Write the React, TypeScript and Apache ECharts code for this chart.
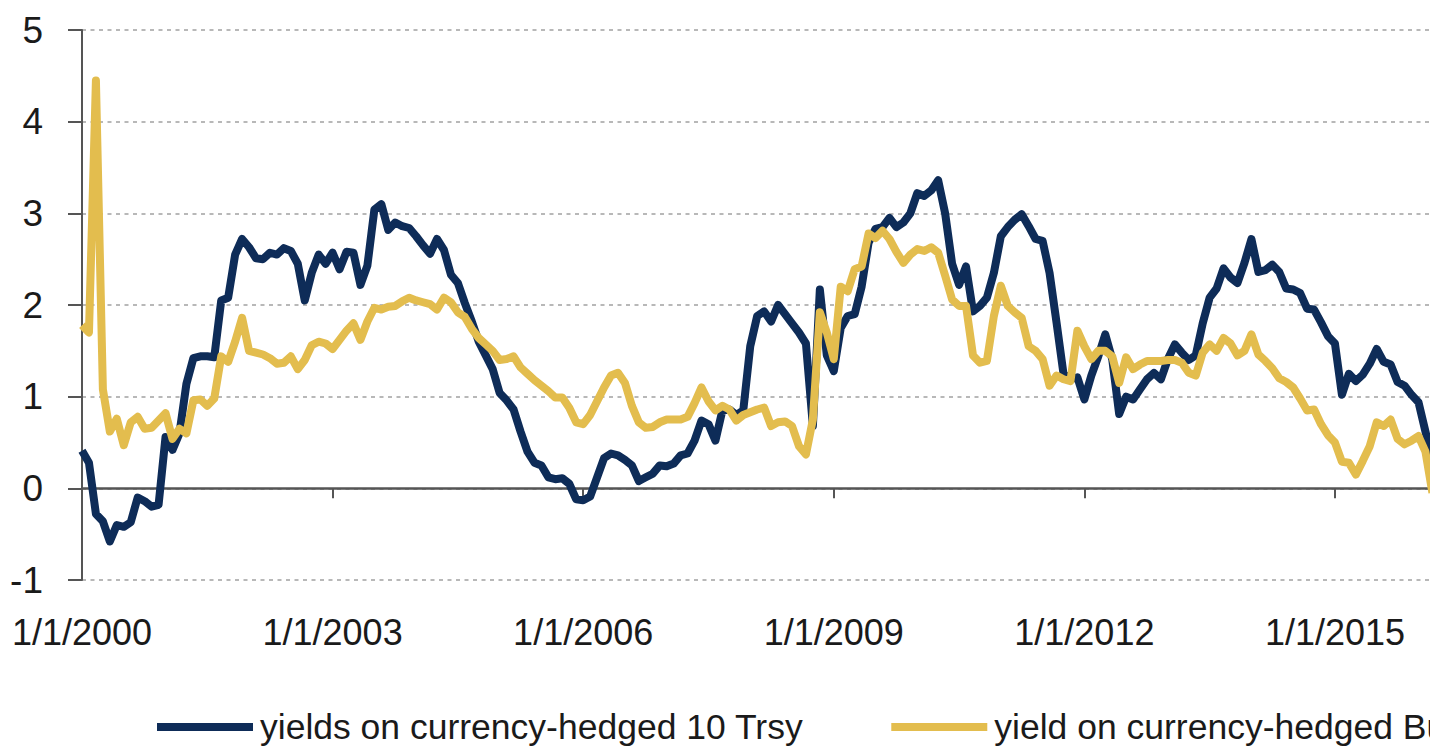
import React, { useEffect, useRef } from "react";
import * as echarts from "echarts";

const startYear = 2000;
const seriesNames = ["yields on currency-hedged 10 Trsy", "yield on currency-hedged Bund"];
const yTicks = { min: -1, max: 5, interval: 1 };

// monthly values, Jan 2000 onward
const treasury: number[] = [
  0.41, 0.28, -0.28, -0.36, -0.58, -0.40, -0.42, -0.37, -0.10, -0.14,
  -0.20, -0.18, 0.56, 0.42, 0.60, 1.14, 1.42, 1.44, 1.44, 1.43,
  2.05, 2.08, 2.55, 2.72, 2.63, 2.51, 2.50, 2.57, 2.55, 2.62,
  2.59, 2.45, 2.05, 2.35, 2.55, 2.45, 2.57, 2.39, 2.58, 2.57,
  2.22, 2.43, 3.04, 3.10, 2.82, 2.90, 2.86, 2.84, 2.75, 2.65,
  2.56, 2.72, 2.60, 2.33, 2.24, 2.02, 1.82, 1.60, 1.45, 1.30,
  1.04, 0.96, 0.86, 0.62, 0.40, 0.28, 0.25, 0.12, 0.10, 0.11,
  0.05, -0.12, -0.13, -0.09, 0.12, 0.33, 0.38, 0.36, 0.31, 0.25,
  0.08, 0.12, 0.16, 0.25, 0.24, 0.27, 0.36, 0.38, 0.52, 0.74,
  0.70, 0.52, 0.85, 0.86, 0.80, 0.85, 1.55, 1.88, 1.93, 1.82,
  2.00, 1.90, 1.80, 1.70, 1.58, 0.68, 2.17, 1.45, 1.28, 1.75,
  1.88, 1.90, 2.20, 2.68, 2.83, 2.85, 2.95, 2.85, 2.90, 3.00,
  3.22, 3.19, 3.25, 3.36, 3.00, 2.45, 2.22, 2.42, 1.93, 1.99,
  2.08, 2.35, 2.75, 2.85, 2.93, 2.99, 2.86, 2.72, 2.70, 2.35,
  1.81, 1.25, 1.19, 1.21, 0.97, 1.23, 1.44, 1.68, 1.41, 0.81,
  1.00, 0.97, 1.08, 1.19, 1.26, 1.19, 1.41, 1.57, 1.48, 1.40,
  1.45, 1.80, 2.08, 2.18, 2.40, 2.30, 2.24, 2.46, 2.72, 2.36,
  2.38, 2.44, 2.36, 2.18, 2.17, 2.13, 1.96, 1.95, 1.81, 1.66,
  1.58, 1.02, 1.25, 1.17, 1.24, 1.36, 1.52, 1.38, 1.35, 1.16,
  1.12, 1.02, 0.94, 0.62, 0.30,
];

const bund: number[] = [
  1.78, 1.70, 4.45, 1.08, 0.62, 0.76, 0.47, 0.72, 0.78, 0.65,
  0.66, 0.74, 0.82, 0.54, 0.65, 0.60, 0.96, 0.97, 0.90, 0.98,
  1.44, 1.38, 1.60, 1.86, 1.50, 1.48, 1.46, 1.42, 1.36, 1.37,
  1.44, 1.30, 1.40, 1.56, 1.60, 1.58, 1.52, 1.62, 1.72, 1.80,
  1.62, 1.82, 1.97, 1.95, 1.98, 1.99, 2.04, 2.08, 2.05, 2.03,
  2.01, 1.95, 2.08, 2.03, 1.92, 1.87, 1.74, 1.64, 1.57, 1.50,
  1.40, 1.41, 1.44, 1.32, 1.25, 1.18, 1.12, 1.06, 0.99, 0.99,
  0.88, 0.72, 0.70, 0.80, 0.95, 1.10, 1.23, 1.26, 1.15, 0.90,
  0.72, 0.66, 0.67, 0.72, 0.75, 0.75, 0.75, 0.78, 0.93, 1.10,
  0.95, 0.85, 0.90, 0.86, 0.74, 0.80, 0.83, 0.86, 0.88, 0.68,
  0.72, 0.73, 0.68, 0.46, 0.37, 0.75, 1.92, 1.70, 1.41, 2.20,
  2.15, 2.39, 2.42, 2.78, 2.73, 2.81, 2.72, 2.58, 2.46, 2.55,
  2.61, 2.59, 2.63, 2.57, 2.32, 2.06, 1.99, 1.99, 1.45, 1.37,
  1.39, 1.88, 2.21, 1.99, 1.92, 1.86, 1.55, 1.50, 1.41, 1.12,
  1.23, 1.19, 1.17, 1.72, 1.55, 1.41, 1.50, 1.50, 1.44, 1.15,
  1.43, 1.30, 1.35, 1.39, 1.39, 1.39, 1.40, 1.40, 1.37, 1.26,
  1.23, 1.48, 1.57, 1.50, 1.64, 1.58, 1.45, 1.50, 1.68, 1.46,
  1.39, 1.31, 1.20, 1.16, 1.10, 0.98, 0.85, 0.86, 0.70, 0.58,
  0.50, 0.29, 0.28, 0.15, 0.30, 0.46, 0.72, 0.68, 0.75, 0.54,
  0.48, 0.52, 0.57, 0.40, -0.05,
];

const months: string[] = treasury.map((_, i) => `${(i % 12) + 1}/1/${startYear + Math.floor(i / 12)}`);

const FONT = "'Liberation Sans', Arial, sans-serif";
const NAVY = "#0e2c58";
const GOLD = "#e3bd4e";

export default function App() {
  const ref = useRef<HTMLDivElement>(null);
  useEffect(() => {
    if (!ref.current) return;
    const chart = echarts.init(ref.current, undefined, { renderer: "svg" });
    const every3y = (i: number) => i % 36 === 0;
    chart.setOption({
      animation: false,
      backgroundColor: "#ffffff",
      textStyle: { fontFamily: FONT },
      grid: { left: 82, top: 30, bottom: 171, right: 67.6, containLabel: false },
      legend: {
        data: seriesNames,
        left: 152,
        top: 704,
        itemWidth: 96,
        itemHeight: 8,
        itemGap: 88,
        icon: "rect",
        textStyle: { fontFamily: FONT, fontSize: 35.5, color: "#1a1a1a", padding: [0, 0, 0, 2] },
      },
      xAxis: [
        {
          type: "category",
          data: months,
          boundaryGap: false,
          position: "bottom",
          axisLine: { onZero: true, lineStyle: { color: "#555555", width: 2.5 } },
          axisTick: { show: true, interval: every3y, length: 10, lineStyle: { color: "#555555", width: 2 } },
          axisLabel: { show: false },
          splitLine: { show: false },
        },
        {
          type: "category",
          data: months,
          boundaryGap: false,
          position: "bottom",
          axisLine: { show: false, onZero: false },
          axisTick: { show: false },
          axisLabel: {
            interval: every3y,
            margin: 34,
            fontFamily: FONT,
            fontSize: 36,
            color: "#1a1a1a",
          },
          splitLine: { show: false },
        },
      ],
      yAxis: {
        type: "value",
        min: yTicks.min,
        max: yTicks.max,
        interval: yTicks.interval,
        axisLine: { show: true, lineStyle: { color: "#555555", width: 2 } },
        axisTick: { show: true, length: 14, lineStyle: { color: "#555555", width: 2 } },
        axisLabel: { margin: 39, fontFamily: FONT, fontSize: 37, color: "#1a1a1a" },
        splitLine: { show: true, lineStyle: { color: "#b8b8b8", width: 2, type: [4, 4.5] } },
      },
      series: [
        {
          name: seriesNames[0],
          type: "line",
          xAxisIndex: 0,
          data: treasury,
          showSymbol: false,
          symbol: "none",
          color: NAVY,
          lineStyle: { color: NAVY, width: 8, join: "round" },
        },
        {
          name: seriesNames[1],
          type: "line",
          xAxisIndex: 0,
          data: bund,
          showSymbol: false,
          symbol: "none",
          color: GOLD,
          lineStyle: { color: GOLD, width: 8, join: "round" },
        },
      ],
    });
    return () => chart.dispose();
  }, []);
  return (
    <div style={{ position: "absolute", left: 0, top: 0, width: 1430, height: 751, overflow: "hidden", background: "#fff" }}>
      <div ref={ref} style={{ width: 1500, height: 751 }} />
    </div>
  );
}
